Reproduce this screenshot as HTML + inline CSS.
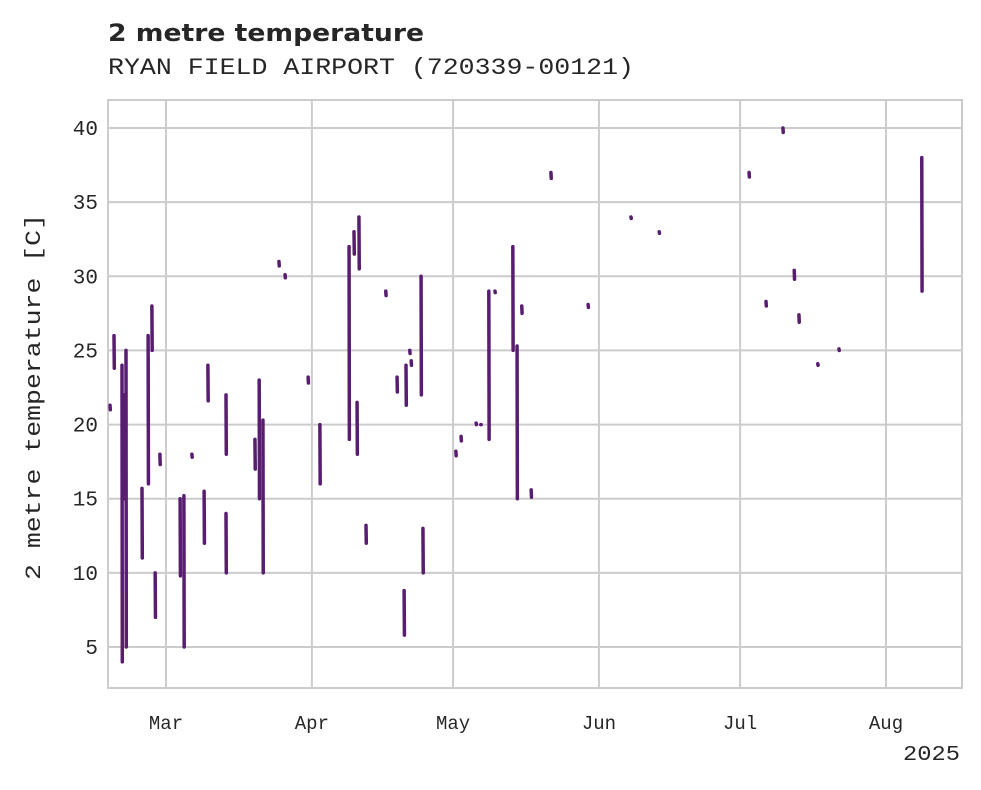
<!DOCTYPE html>
<html><head><meta charset="utf-8"><style>
body{margin:0;background:#fff;}
svg text{font-family:"Liberation Mono",monospace;fill:#262626;}
</style></head><body>
<svg width="981" height="785" id="chart">
<text x="108" y="41" textLength="316" lengthAdjust="spacingAndGlyphs" style="font-family:'DejaVu Sans','Liberation Sans',sans-serif;font-weight:bold;font-size:24px">2 metre temperature</text>
<text x="108" y="74" font-size="23" textLength="526" lengthAdjust="spacingAndGlyphs">RYAN FIELD AIRPORT (720339-00121)</text>
<g id="grid"></g>
<rect x="108" y="100" width="854" height="588" fill="none" stroke="#cccccc" stroke-width="2"/>
<g id="marks"></g>
<text x="40" y="397" font-size="22" text-anchor="middle" textLength="366" lengthAdjust="spacingAndGlyphs" transform="rotate(-90 40 397)">2 metre temperature [C]</text>
<text x="960" y="760" font-size="21" text-anchor="end" textLength="57" lengthAdjust="spacingAndGlyphs">2025</text>
</svg>
<script>
const yTicks=[5,10,15,20,25,30,35,40];
const monthLabels=["Mar","Apr","May","Jun","Jul","Aug"];
const monthDays=[0,31,61,92,122,153];
const segDays=[-11.9,-11.05,-9.35,-8.9,-8.5,-5.1,-3.8,-3.0,-2.3,-1.3,3.0,3.8,5.5,8.1,8.9,12.75,12.75,18.9,19.8,20.6,24.0,25.3,30.2,32.7,38.9,39.95,41.0,40.6,42.5,46.7,49.1,50.6,51.0,51.8,52.1,54.2,54.6,61.6,62.7,65.9,66.9,68.6,69.9,73.7,74.6,75.6,77.6,81.8,89.7,98.8,104.8,123.9,127.5,131.1,133.5,134.5,138.5,143.0,160.6];
const segHigh=[21.3,26,24,22,25,15.7,26,28,10,18,15,15.2,18,15.5,24,22,14,19,23,20.3,31,30.1,23.2,20,32,33,34,21.5,13.2,29,23.2,8.8,24,25,24.3,30,13,18.2,19.2,20.1,20,29,29,32,25.3,28,15.6,37,28.1,34,33,37,28.3,40,30.4,27.4,24.1,25.1,38];
const segLow=[21,23.8,4,15,5,11,16,25,7,17.3,9.8,5,17.8,12,21.6,18,10,17,15,10,30.7,29.9,22.8,16,19,31.5,30.5,18,12,28.7,22.2,5.8,21.3,24.8,24,22,10,17.9,18.9,20,20,19,28.9,25,15,27.5,15.1,36.6,27.9,33.9,32.9,36.7,28,39.7,29.8,26.9,24,25,29];
const X=d=>166+d*(720/153);
const Y=v=>647-(v-5)*(519/35);
const NS="http://www.w3.org/2000/svg";
const grid=document.getElementById('grid'),marks=document.getElementById('marks');
function mk(tag,attrs,parent){const e=document.createElementNS(NS,tag);for(const k in attrs)e.setAttribute(k,attrs[k]);parent.appendChild(e);return e;}
yTicks.forEach(v=>{
 const l=mk('line',{x1:108,x2:962,y1:Y(v),y2:Y(v),stroke:'#cccccc','stroke-width':2},grid);
 
 
 const t=mk('text',{x:98,y:Y(v)+7,'text-anchor':'end','font-size':21},grid);
 t.textContent=v;
 
 
});
monthLabels.forEach((m,i)=>{
 const x=X(monthDays[i]);
 const l=mk('line',{x1:x,x2:x,y1:100,y2:688,stroke:'#cccccc','stroke-width':2},grid);
 
 
 const t=mk('text',{x:x,y:729,'text-anchor':'middle','font-size':19},grid);
 t.textContent=m;
 
 
});
segDays.forEach((d,i)=>{
 const x=X(d);
 const l=mk('line',{x1:x,x2:x+0.3,y1:Y(segHigh[i]),y2:Y(segLow[i]),stroke:'#581c70','stroke-width':3.5,'stroke-linecap':'round'},marks);
 
 
});
</script>
</body></html>
